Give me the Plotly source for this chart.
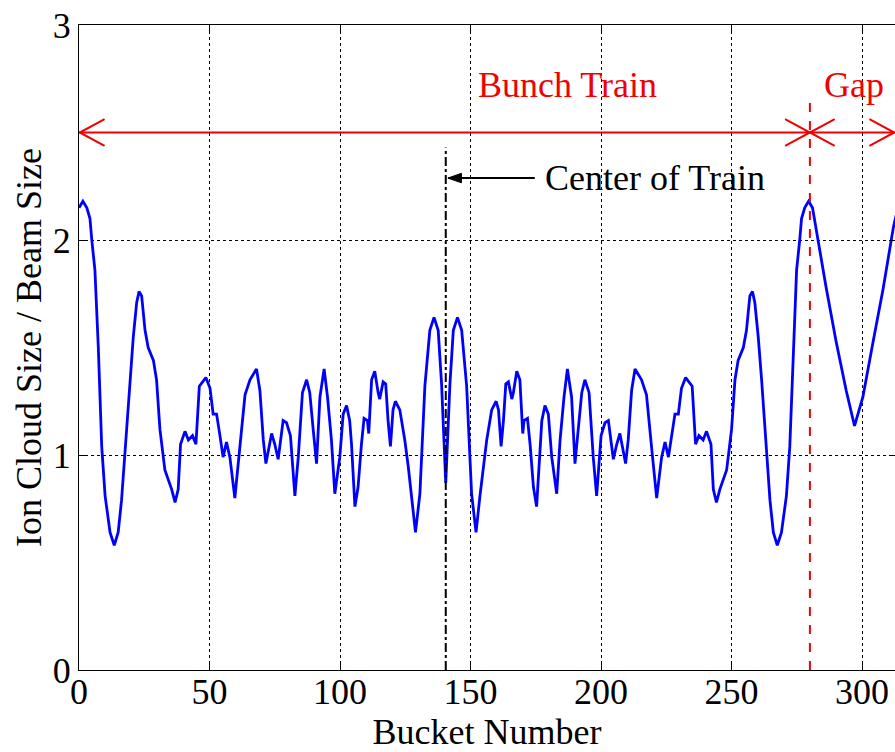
import plotly.graph_objects as go

# ---- data ----
bucket = [0, 1.5, 3, 4.2, 4.9, 6.1, 7.4, 8.7, 10, 11.9, 13.5, 15, 16.3, 17.6, 19.5, 20.8,
          22.1, 23, 24, 25.3, 26.5, 28.5, 29.7, 31, 32.9, 35.5, 36.8, 38, 38.9, 40.6, 41.9,
          43.5, 44.8, 46.1, 48.6, 50.2, 51.4, 52.7, 54, 55.2, 56.5, 57.8, 59.7, 61.6, 63.6,
          65.5, 68, 69.3, 70.6, 71.6, 73.8, 75, 76.3, 78.2, 79.5, 81, 82.7, 84, 85.6, 87.2,
          88.4, 89.7, 91, 92.3, 93.9, 95.2, 96.7, 98, 99.9, 101.2, 102.5, 103.7, 104.4,
          105.7, 106.9, 108.2, 109.2, 110.5, 111, 112.1, 113.3, 114.6, 115.2, 116.5, 117.5,
          118.4, 119.3, 120.3, 121.2, 122.9, 124.8, 126.1, 127.4, 128.9, 130.6, 132.5, 134.4,
          136, 137.6, 138.9, 139.7, 140.5,
          141.3, 142.1, 143.4, 145, 146.6, 148.5, 150.4, 152.1, 153.6, 154.9, 156.2, 158.1,
          159.8, 160.7, 161.7, 162.6, 163.5, 164.5, 165.8, 166.4, 167.7, 168.9, 170, 170.5,
          171.8, 172.8, 174.1, 175.3, 176.6, 177.3, 178.5, 179.8, 181.1, 183, 184.3, 185.8,
          187.1, 188.7, 190, 191.3, 192.6, 193.8, 195.4, 197, 198.3, 200, 201.5, 202.8, 204.7,
          206, 207.2, 209.4, 210.4, 211.7, 213, 215.5, 217.4, 219.4, 221.3, 223.2, 224.5,
          225.8, 227, 228.3, 229.6, 230.8, 232.4, 234.9, 236.2, 237.5, 239.1, 240.4, 242.1,
          243, 244.2, 245.5, 248.1, 250, 251.3, 252.5, 254.5, 255.7, 257, 258, 258.9, 260.2,
          261.5, 263.4, 264.7, 266, 267.5, 269.1, 271, 272.3, 273.6, 274.9, 276.1, 276.8, 278,
          279.5, 281, 282.4, 286.2, 290, 293.9, 297.1, 300.3, 304.1, 308, 312, 313.5]
ratio = [2.15, 2.18, 2.15, 2.1, 2.0, 1.86, 1.5, 1.04, 0.81, 0.64, 0.58, 0.64, 0.79, 1.01, 1.35,
         1.55, 1.71, 1.76, 1.74, 1.58, 1.5, 1.44, 1.35, 1.12, 0.93, 0.84, 0.78, 0.84, 1.05,
         1.11, 1.07, 1.09, 1.05, 1.32, 1.36, 1.31, 1.19, 1.19, 1.09, 0.99, 1.06, 0.99, 0.8,
         1.03, 1.28, 1.35, 1.4, 1.3, 1.07, 0.96, 1.1, 1.05, 0.98, 1.16, 1.15, 1.09, 0.81,
         0.99, 1.29, 1.35, 1.29, 1.12, 0.96, 1.27, 1.4, 1.27, 1.07, 0.82, 0.99, 1.19, 1.23,
         1.16, 1.05, 0.76, 0.85, 1.05, 1.17, 1.16, 1.1, 1.35, 1.39, 1.29, 1.26, 1.34, 1.33,
         1.16, 1.04, 1.21, 1.25, 1.21, 1.07, 0.95, 0.81, 0.64, 0.82, 1.32, 1.58, 1.64, 1.58,
         1.33, 1.1, 0.87,
         1.1, 1.33, 1.58, 1.64, 1.58, 1.32, 0.82, 0.64, 0.81, 0.95, 1.07, 1.21, 1.25, 1.21,
         1.04, 1.16, 1.33, 1.34, 1.26, 1.29, 1.39, 1.35, 1.1, 1.16, 1.17, 1.05, 0.85, 0.76,
         1.05, 1.16, 1.23, 1.19, 0.99, 0.82, 1.07, 1.27, 1.4, 1.27, 0.96, 1.12, 1.29, 1.35,
         1.29, 0.99, 0.81, 1.09, 1.15, 1.16, 0.98, 1.05, 1.1, 0.96, 1.07, 1.3, 1.4, 1.35,
         1.28, 1.03, 0.8, 0.99, 1.06, 0.99, 1.09, 1.19, 1.19, 1.31, 1.36, 1.32, 1.05, 1.09,
         1.07, 1.11, 1.05, 0.84, 0.78, 0.84, 0.93, 1.12, 1.35, 1.44, 1.5, 1.58, 1.74, 1.76,
         1.71, 1.55, 1.35, 1.01, 0.79, 0.64, 0.58, 0.64, 0.81, 1.04, 1.5, 1.86, 2.0, 2.1,
         2.15, 2.18, 2.15, 2.05, 1.78, 1.53, 1.3, 1.135, 1.27, 1.52, 1.77, 2.06, 2.14]

x_ticks = [0, 50, 100, 150, 200, 250, 300]
y_ticks = [0, 1, 2, 3]
train_end = 280
train_center = 140.5
arrow_level = 2.5

RED = "#F00000"
FONT = "Liberation Serif, Times New Roman, serif"
FS = 36

fig = go.Figure()
fig.add_trace(go.Scatter(x=bucket, y=ratio, mode="lines",
                         line=dict(color="#0000FF", width=2.8), showlegend=False,
                         hoverinfo="skip"))

XMAX = 312.6
shapes = []
# center of train dash-dot line
shapes.append(dict(type="line", xref="x", yref="y", x0=train_center, x1=train_center,
                   y0=0, y1=2.43, line=dict(color="black", width=2, dash="dashdot")))
# end of train dashed red line
shapes.append(dict(type="line", xref="x", yref="y", x0=train_end, x1=train_end,
                   y0=0, y1=2.65, line=dict(color=RED, width=2, dash="dash")))
# double-headed arrow lines
shapes.append(dict(type="line", xref="x", yref="y", x0=0, x1=XMAX, y0=arrow_level,
                   y1=arrow_level, line=dict(color=RED, width=2)))
ax_len = 9.5
ay = 0.062
def chevron(tip, direction):
    back = tip - direction * ax_len
    return dict(type="path", xref="x", yref="y",
                path=f"M {back},{arrow_level + ay} L {tip},{arrow_level} L {back},{arrow_level - ay}",
                line=dict(color=RED, width=2))
shapes.append(chevron(0.3, -1))
shapes.append(chevron(train_end, 1))
shapes.append(chevron(train_end, -1))
shapes.append(chevron(XMAX - 0.3, 1))
# black arrow for center of train
shapes.append(dict(type="line", xref="x", yref="y", x0=141.5, x1=174.6, y0=2.288, y1=2.288,
                   line=dict(color="black", width=2)))
shapes.append(dict(type="path", xref="x", yref="y",
                   path="M 141.3,2.288 L 146.5,2.31 L 146.5,2.266 Z",
                   fillcolor="black", line=dict(color="black", width=1)))

annotations = [
    dict(x=187.2, y=2.72, xref="x", yref="y", text="Bunch Train", showarrow=False,
         font=dict(family=FONT, size=FS, color=RED)),
    dict(x=297, y=2.72, xref="x", yref="y", text="Gap", showarrow=False,
         font=dict(family=FONT, size=FS, color=RED)),
    dict(x=177.6, y=2.29, xref="x", yref="y", text="Center of Train", showarrow=False,
         xanchor="left", font=dict(family=FONT, size=FS, color="black")),
]

fig.update_layout(
    width=895, height=752,
    margin=dict(l=79, r=0, t=25, b=82),
    paper_bgcolor="white", plot_bgcolor="white",
    font=dict(family=FONT, size=FS, color="black"),
    shapes=shapes, annotations=annotations,
    xaxis=dict(range=[0, XMAX], tickvals=x_ticks, ticks="inside", ticklen=6,
               tickcolor="black", showline=True, linecolor="black", linewidth=1,
               mirror="ticks", showgrid=True, gridcolor="black", griddash="dot",
               gridwidth=1, zeroline=False, ticklabelstandoff=-10,
               title=dict(text="Bucket Number", standoff=5,
                          font=dict(family=FONT, size=FS))),
    yaxis=dict(range=[0, 3], tickvals=y_ticks, ticks="inside", ticklen=6,
               tickcolor="black", showline=True, linecolor="black", linewidth=1,
               mirror="ticks", showgrid=True, gridcolor="black", griddash="dot",
               gridwidth=1, zeroline=False,
               title=dict(text="Ion Cloud Size / Beam Size", standoff=0,
                          font=dict(family=FONT, size=FS))),
)

fig.write_html("out.html")
